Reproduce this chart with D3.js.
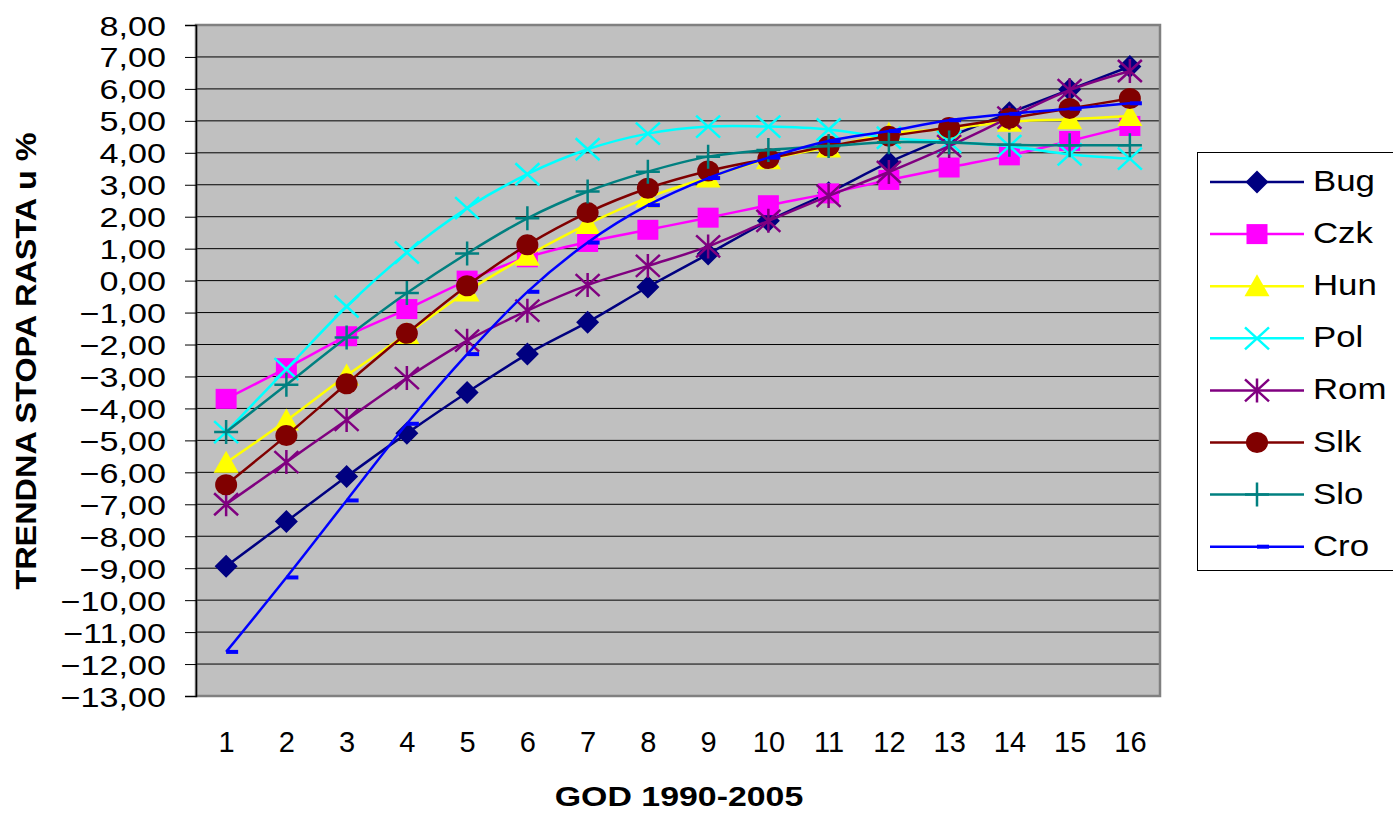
<!DOCTYPE html>
<html>
<head>
<meta charset="utf-8">
<script src="https://cdn.jsdelivr.net/npm/d3@7/dist/d3.min.js"></script>
<style>
  html, body { margin: 0; padding: 0; background: #fff; }
  svg { display: block; font-family: Arial, "Liberation Sans", sans-serif; }
</style>
</head>
<body>
<svg id="chart" width="1393" height="813"></svg>
<script>
// Years 1..16 (1990-2005)
const years = [1, 2, 3, 4, 5, 6, 7, 8, 9, 10, 11, 12, 13, 14, 15, 16];
const yTicks = [8, 7, 6, 5, 4, 3, 2, 1, 0, -1, -2, -3, -4, -5, -6, -7, -8, -9, -10, -11, -12, -13];

// Trend growth rate in % per country
const bug = [-8.94, -7.54, -6.13, -4.78, -3.50, -2.30, -1.30, -0.20, 0.83, 1.87, 2.75, 3.70, 4.50, 5.25, 5.98, 6.70];
const czk = [-3.70, -2.74, -1.74, -0.89, 0.00, 0.73, 1.21, 1.59, 1.97, 2.36, 2.73, 3.15, 3.54, 3.92, 4.37, 4.84];
const hun = [-5.70, -4.38, -2.97, -1.67, -0.34, 0.78, 1.77, 2.60, 3.23, 3.80, 4.17, 4.60, 4.75, 4.97, 5.05, 5.15];
const pol = [-4.74, -2.77, -0.81, 0.88, 2.27, 3.33, 4.11, 4.60, 4.82, 4.82, 4.73, 4.47, 4.34, 4.21, 3.95, 3.82];
const rom = [-7.00, -5.68, -4.36, -3.05, -1.88, -0.94, -0.14, 0.46, 1.07, 1.87, 2.65, 3.40, 4.21, 5.10, 5.96, 6.56];
const slk = [-6.39, -4.85, -3.23, -1.65, -0.16, 1.12, 2.13, 2.89, 3.43, 3.82, 4.21, 4.52, 4.79, 5.08, 5.39, 5.70];
const slo = [-4.74, -3.26, -1.78, -0.39, 0.85, 1.95, 2.79, 3.41, 3.88, 4.09, 4.21, 4.33, 4.32, 4.25, 4.24, 4.24];
const cro = [-11.62, -9.29, -6.88, -4.48, -2.30, -0.35, 1.19, 2.36, 3.21, 3.85, 4.37, 4.68, 5.02, 5.22, 5.38, 5.55];

const seriesNames = ["Bug", "Czk", "Hun", "Pol", "Rom", "Slk", "Slo", "Cro"];
const seriesValues = [bug, czk, hun, pol, rom, slk, slo, cro];
const seriesColors = ["#000080", "#FF00FF", "#FFFF00", "#00FFFF", "#800080", "#800000", "#008080", "#0000FF"];
const seriesMarkers = ["diamond", "square", "triangle", "cross", "asterisk", "circle", "plus", "dash"];

const yTitle = "TRENDNA STOPA RASTA u %";
const xTitle = "GOD 1990-2005";

const svg = d3.select("#chart");
const plot = { left: 196, right: 1160, top: 25, bottom: 696 };

const x = d3.scalePoint().domain(years).range([plot.left, plot.right]).padding(0.5);
const y = d3.scaleLinear().domain([-13, 8]).range([plot.bottom, plot.top]);

// Plot area
svg.append("rect")
  .attr("x", plot.left).attr("y", plot.top)
  .attr("width", plot.right - plot.left).attr("height", plot.bottom - plot.top)
  .attr("fill", "#C0C0C0");

// Horizontal gridlines
svg.append("g").selectAll("line").data(yTicks.filter(d => d !== 8 && d !== -13)).join("line")
  .attr("x1", plot.left).attr("x2", plot.right)
  .attr("y1", d => y(d)).attr("y2", d => y(d))
  .attr("stroke", "#000").attr("stroke-width", 1);

// Frame
svg.append("rect")
  .attr("x", plot.left).attr("y", plot.top)
  .attr("width", plot.right - plot.left).attr("height", plot.bottom - plot.top)
  .attr("fill", "none").attr("stroke", "#808080").attr("stroke-width", 2.5);

// Y axis
const yAxis = d3.axisLeft(y).tickValues(yTicks).tickSize(11).tickFormat(d => d3.format(".2f")(d).replace(".", ","));
const yAxisG = svg.append("g").attr("transform", `translate(${plot.left},0)`).call(yAxis);
yAxisG.select(".domain").attr("stroke", "#000").attr("stroke-width", 1.5);
yAxisG.selectAll(".tick line").attr("stroke", "#000");
yAxisG.selectAll(".tick text")
  .attr("x", null).attr("dy", null)
  .attr("font-size", 28).attr("fill", "#000")
  .attr("font-family", "Arial, 'Liberation Sans', sans-serif")
  .attr("text-anchor", "end")
  .attr("transform", "translate(-30,10) scale(1.22,1)");

// X axis labels
const xAxis = d3.axisBottom(x).tickSize(0).tickPadding(0);
const xAxisG = svg.append("g").attr("transform", `translate(0,${plot.bottom})`).call(xAxis);
xAxisG.select(".domain").remove();
xAxisG.selectAll(".tick text")
  .attr("y", 56).attr("dy", null)
  .attr("font-size", 29).attr("fill", "#000")
  .attr("font-family", "Arial, 'Liberation Sans', sans-serif");

// Axis titles
svg.append("text")
  .attr("transform", "translate(679,806) scale(1.21,1)")
  .attr("text-anchor", "middle")
  .attr("font-size", 28).attr("font-weight", "bold")
  .text(xTitle);

svg.append("text")
  .attr("transform", "translate(36,361) rotate(-90) scale(1.08,1)")
  .attr("text-anchor", "middle")
  .attr("font-size", 30).attr("font-weight", "bold")
  .text(yTitle);

// Markers
function drawMarker(g, type, color, cx, cy) {
  switch (type) {
    case "diamond":
      g.append("path").attr("d", `M${cx},${cy - 11.5}L${cx + 11.5},${cy}L${cx},${cy + 11.5}L${cx - 11.5},${cy}Z`).attr("fill", color);
      break;
    case "square":
      g.append("rect").attr("x", cx - 10.5).attr("y", cy - 10).attr("width", 21).attr("height", 20).attr("fill", color);
      break;
    case "triangle":
      g.append("path").attr("d", `M${cx},${cy - 12}L${cx + 12.5},${cy + 10}L${cx - 12.5},${cy + 10}Z`).attr("fill", color);
      break;
    case "circle":
      g.append("ellipse").attr("cx", cx).attr("cy", cy).attr("rx", 11).attr("ry", 10.5).attr("fill", color);
      break;
    case "cross":
      g.append("path").attr("d", `M${cx - 12},${cy - 11}L${cx + 12},${cy + 11}M${cx + 12},${cy - 11}L${cx - 12},${cy + 11}`)
        .attr("stroke", color).attr("stroke-width", 2.5).attr("fill", "none");
      break;
    case "asterisk":
      g.append("path").attr("d", `M${cx - 12},${cy - 11}L${cx + 12},${cy + 11}M${cx + 12},${cy - 11}L${cx - 12},${cy + 11}M${cx},${cy - 12}L${cx},${cy + 12}`)
        .attr("stroke", color).attr("stroke-width", 2.5).attr("fill", "none");
      break;
    case "plus":
      g.append("path").attr("d", `M${cx - 12},${cy}L${cx + 12},${cy}M${cx},${cy - 12}L${cx},${cy + 12}`)
        .attr("stroke", color).attr("stroke-width", 2.5).attr("fill", "none");
      break;
    case "dash":
      g.append("rect").attr("x", cx).attr("y", cy - 2).attr("width", 12).attr("height", 4).attr("fill", color);
      break;
  }
}

const line = d3.line()
  .x((d, i) => x(years[i]))
  .y(d => y(d))
  .curve(d3.curveCatmullRom.alpha(0));

seriesValues.forEach((vals, s) => {
  const g = svg.append("g").attr("class", "series-" + seriesNames[s]);
  g.append("path")
    .attr("d", line(vals))
    .attr("fill", "none")
    .attr("stroke", seriesColors[s])
    .attr("stroke-width", 2.5);
  vals.forEach((v, i) => drawMarker(g, seriesMarkers[s], seriesColors[s], x(years[i]), y(v)));
});

// Legend
const legend = svg.append("g");
legend.append("rect")
  .attr("x", 1197.5).attr("y", 152.5).attr("width", 210).attr("height", 418)
  .attr("fill", "#fff").attr("stroke", "#000").attr("stroke-width", 1);
seriesNames.forEach((name, s) => {
  const ly = 182 + s * 52.1;
  const g = legend.append("g");
  g.append("line").attr("x1", 1210).attr("x2", 1304).attr("y1", ly).attr("y2", ly)
    .attr("stroke", seriesColors[s]).attr("stroke-width", 2.5);
  drawMarker(g, seriesMarkers[s], seriesColors[s], 1257, ly);
  g.append("text")
    .attr("transform", `translate(1313,${ly + 9}) scale(1.16,1)`)
    .attr("font-size", 30).attr("fill", "#000")
    .text(name);
});
</script>
</body>
</html>
